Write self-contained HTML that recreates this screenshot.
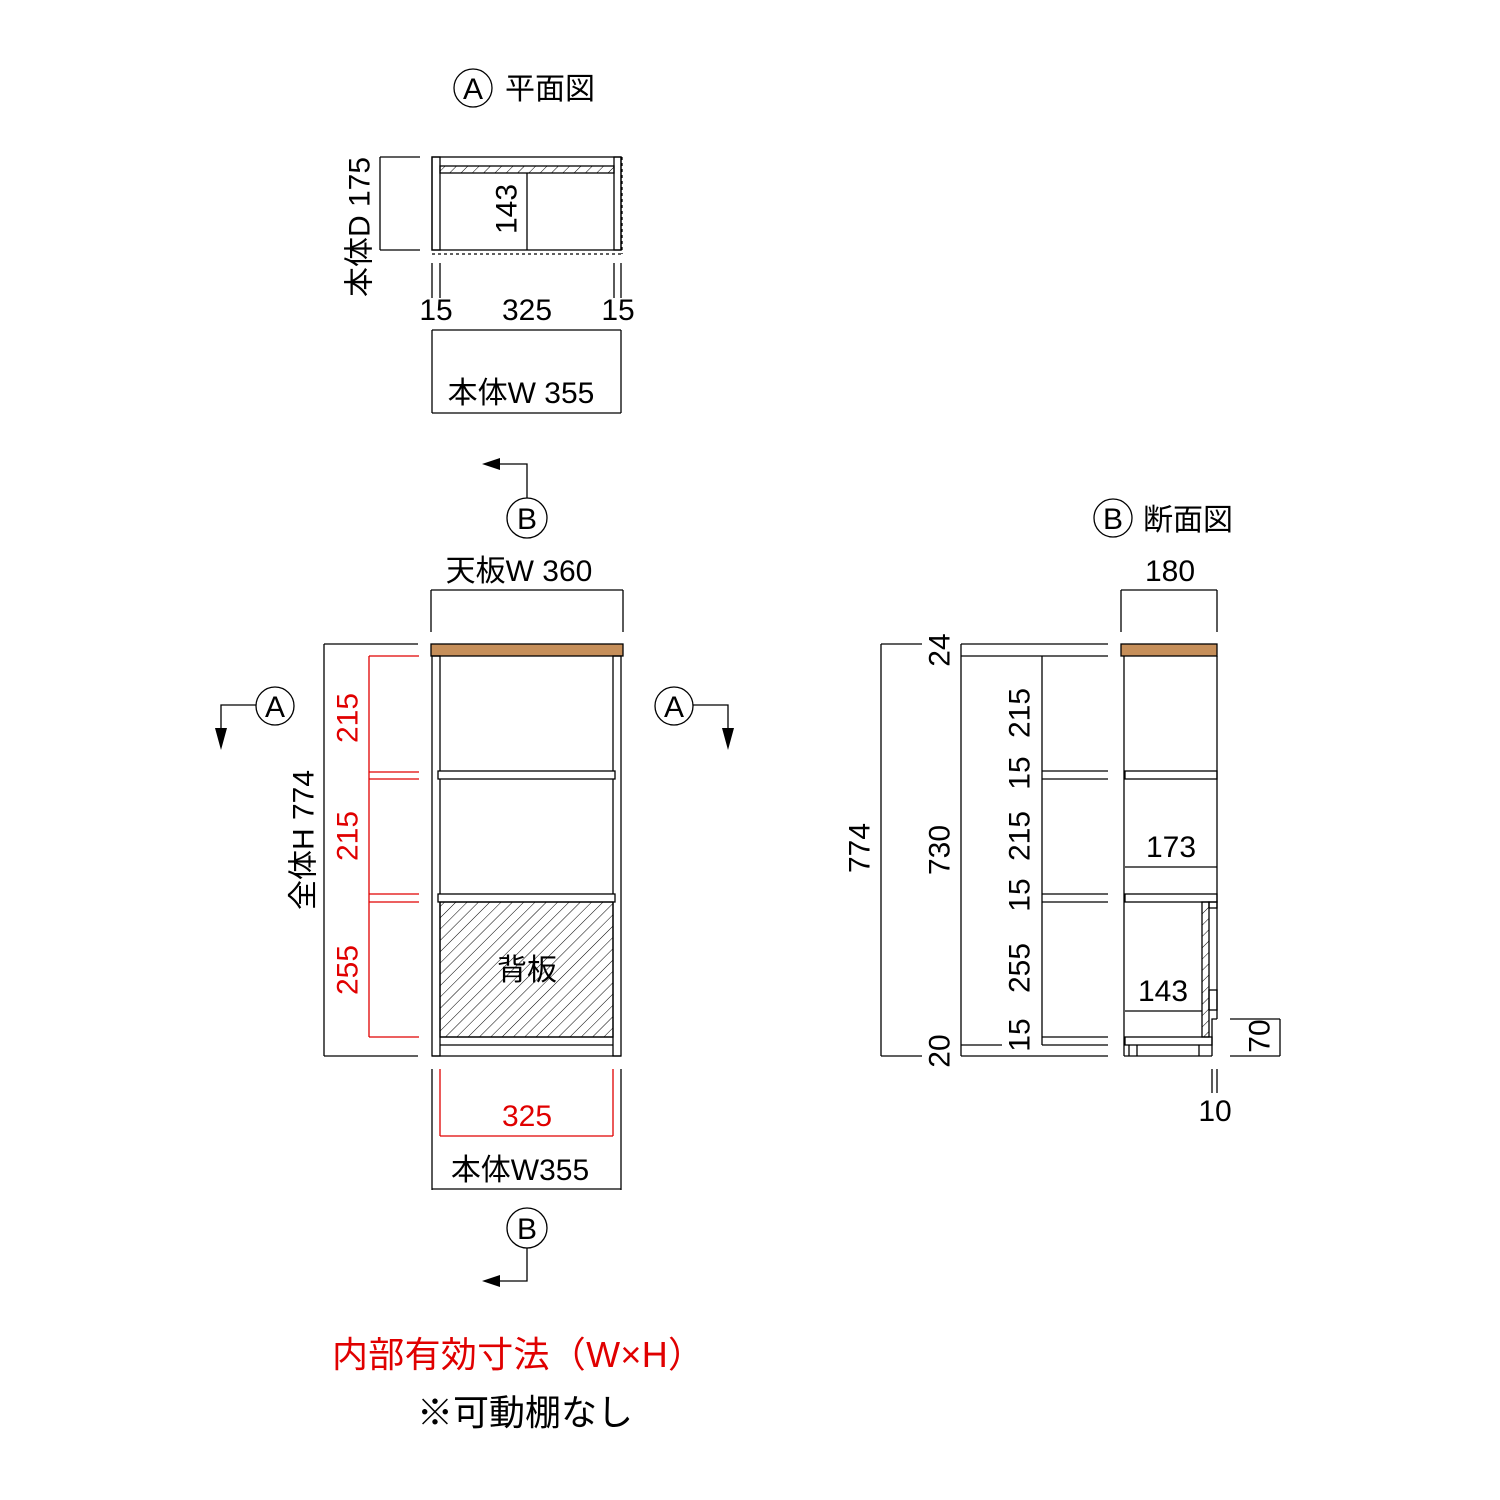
<!DOCTYPE html>
<html><head><meta charset="utf-8"><style>
html,body{margin:0;padding:0;background:#fff}
svg{display:block}
text{font-family:"Liberation Sans","Noto Sans CJK JP",sans-serif;fill:#000}
.r{fill:#e00000}
</style></head><body>
<svg width="1500" height="1500" viewBox="0 0 1500 1500" xmlns="http://www.w3.org/2000/svg">
<defs>
<pattern id="h" patternUnits="userSpaceOnUse" width="8" height="8" patternTransform="rotate(45)">
<line x1="0" y1="0" x2="0" y2="8" stroke="#000" stroke-width="1"/>
</pattern>
</defs>
<g stroke="#000" stroke-width="1.3" fill="none">
<circle cx="473" cy="88" r="19"/>
<rect x="432" y="157" width="189" height="93" fill="#fff"/>
<rect x="432" y="157" width="8" height="93"/>
<rect x="614" y="157" width="7" height="93"/>
<rect x="440" y="166" width="174" height="7" fill="url(#h)"/>
<line x1="527" y1="173" x2="527" y2="250"/>
<line x1="432" y1="254" x2="622" y2="254" stroke-dasharray="3,3"/>
<line x1="622" y1="157" x2="622" y2="254" stroke-dasharray="3,3"/>
<line x1="380" y1="157" x2="380" y2="250"/>
<line x1="380" y1="157" x2="420" y2="157"/>
<line x1="380" y1="250" x2="420" y2="250"/>
<line x1="432" y1="263" x2="432" y2="298"/><line x1="440" y1="263" x2="440" y2="298"/>
<line x1="614" y1="263" x2="614" y2="298"/><line x1="621" y1="263" x2="621" y2="298"/>
<line x1="432" y1="330" x2="621" y2="330"/>
<line x1="432" y1="330" x2="432" y2="413"/><line x1="621" y1="330" x2="621" y2="413"/>
<line x1="432" y1="413" x2="621" y2="413"/>

<circle cx="527" cy="518" r="20"/>
<polyline points="527,498 527,464 485,464"/>
<circle cx="527" cy="1228" r="20"/>
<polyline points="527,1248 527,1281 485,1281"/>
<circle cx="275" cy="706" r="19"/>
<polyline points="256,705 221,705 221,730"/>
<circle cx="674" cy="706" r="19"/>
<polyline points="693,705 728,705 728,730"/>

<line x1="431" y1="590" x2="623" y2="590"/>
<line x1="431" y1="590" x2="431" y2="632"/><line x1="623" y1="590" x2="623" y2="632"/>
<rect x="431" y="644" width="192" height="12" fill="#c68f5a"/>
<rect x="432" y="656" width="8" height="400"/>
<rect x="613" y="656" width="8" height="400"/>
<rect x="438" y="771" width="177" height="8" fill="#fff"/>
<rect x="438" y="894" width="177" height="8" fill="#fff"/>
<rect x="440" y="902" width="173" height="135" fill="url(#h)"/>
<line x1="440" y1="1037" x2="613" y2="1037"/>
<line x1="440" y1="1045" x2="613" y2="1045"/>
<line x1="432" y1="1056" x2="621" y2="1056"/>
<line x1="324" y1="644" x2="324" y2="1056"/>
<line x1="324" y1="644" x2="418" y2="644"/>
<line x1="324" y1="1056" x2="418" y2="1056"/>
<line x1="432" y1="1069" x2="432" y2="1190"/><line x1="621" y1="1069" x2="621" y2="1190"/>
<line x1="432" y1="1189" x2="621" y2="1189"/>
</g>
<g stroke="#e00000" stroke-width="1.3" fill="none">
<line x1="369" y1="656" x2="369" y2="1037"/>
<line x1="369" y1="656" x2="419" y2="656"/>
<line x1="369" y1="772" x2="419" y2="772"/>
<line x1="369" y1="779" x2="419" y2="779"/>
<line x1="369" y1="894" x2="419" y2="894"/>
<line x1="369" y1="902" x2="419" y2="902"/>
<line x1="369" y1="1037" x2="419" y2="1037"/>
<line x1="440" y1="1069" x2="440" y2="1136"/><line x1="613" y1="1069" x2="613" y2="1136"/>
<line x1="440" y1="1136" x2="613" y2="1136"/>
</g>
<g fill="#000">
<polygon points="482,464 500,458 500,470"/>
<polygon points="482,1281 500,1275 500,1287"/>
<polygon points="221,750 215,728 227,728"/>
<polygon points="728,750 722,728 734,728"/>
</g>

<g stroke="#000" stroke-width="1.3" fill="none">
<circle cx="1113" cy="518" r="19"/>
<line x1="1121" y1="590" x2="1217" y2="590"/>
<line x1="1121" y1="590" x2="1121" y2="632"/><line x1="1217" y1="590" x2="1217" y2="632"/>
<rect x="1121" y="644" width="96" height="12" fill="#c68f5a"/>
<line x1="1124" y1="656" x2="1124" y2="1056"/>
<line x1="1217" y1="656" x2="1217" y2="1019"/>
<rect x="1125" y="771" width="92" height="8"/>
<rect x="1125" y="894" width="92" height="8"/>
<line x1="1125" y1="867" x2="1217" y2="867"/>
<rect x="1202" y="902" width="7" height="135" fill="url(#h)"/>
<rect x="1209" y="902" width="8" height="6"/>
<rect x="1209" y="990" width="8" height="20"/>
<polyline points="1217,1019 1212,1019 1212,1056"/>
<line x1="1125" y1="1011" x2="1202" y2="1011"/>
<rect x="1125" y="1037" width="87" height="8"/>
<line x1="1124" y1="1056" x2="1212" y2="1056"/>
<line x1="1129" y1="1045" x2="1129" y2="1056"/>
<line x1="1137" y1="1045" x2="1137" y2="1056"/>
<line x1="1199" y1="1045" x2="1199" y2="1056"/>
<line x1="881" y1="644" x2="881" y2="1056"/>
<line x1="881" y1="644" x2="922" y2="644"/><line x1="881" y1="1056" x2="922" y2="1056"/>
<line x1="961" y1="644" x2="961" y2="1056"/>
<line x1="961" y1="644" x2="1108" y2="644"/>
<line x1="961" y1="656" x2="1108" y2="656"/>
<line x1="961" y1="1045" x2="1002" y2="1045"/>
<line x1="1042" y1="1045" x2="1108" y2="1045"/>
<line x1="961" y1="1056" x2="1108" y2="1056"/>
<line x1="1042" y1="656" x2="1042" y2="1045"/>
<line x1="1042" y1="771" x2="1108" y2="771"/>
<line x1="1042" y1="779" x2="1108" y2="779"/>
<line x1="1042" y1="894" x2="1108" y2="894"/>
<line x1="1042" y1="902" x2="1108" y2="902"/>
<line x1="1042" y1="1037" x2="1108" y2="1037"/>
<line x1="1280" y1="1019" x2="1280" y2="1056"/>
<line x1="1230" y1="1019" x2="1280" y2="1019"/>
<line x1="1230" y1="1056" x2="1280" y2="1056"/>
<line x1="1212" y1="1069" x2="1212" y2="1093"/>
<line x1="1217" y1="1069" x2="1217" y2="1093"/>
</g>

<g font-size="30" text-anchor="middle">
<text x="473" y="99">A</text>
<text x="550" y="99" text-anchor="middle">平面図</text>
<text x="507" y="209" transform="rotate(-90 507 209)" dominant-baseline="central">143</text>
<text x="360" y="227" transform="rotate(-90 360 227)" dominant-baseline="central">本体D 175</text>
<text x="436" y="320">15</text>
<text x="527" y="320">325</text>
<text x="618" y="320">15</text>
<text x="521" y="403">本体W 355</text>
<text x="527" y="529">B</text>
<text x="527" y="1239">B</text>
<text x="275" y="717">A</text>
<text x="674" y="717">A</text>
<text x="519" y="581">天板W 360</text>
<text x="304" y="840" transform="rotate(-90 304 840)" dominant-baseline="central">全体H 774</text>
<text x="348" y="718" transform="rotate(-90 348 718)" dominant-baseline="central" class="r">215</text>
<text x="348" y="836" transform="rotate(-90 348 836)" dominant-baseline="central" class="r">215</text>
<text x="348" y="970" transform="rotate(-90 348 970)" dominant-baseline="central" class="r">255</text>
<text x="527" y="980">背板</text>
<text x="527" y="1126" class="r">325</text>
<text x="520" y="1180">本体W355</text>
<text x="1113" y="529">B</text>
<text x="1188" y="530">断面図</text>
<text x="1170" y="581">180</text>
<text x="860" y="848" transform="rotate(-90 860 848)" dominant-baseline="central">774</text>
<text x="940" y="650" transform="rotate(-90 940 650)" dominant-baseline="central">24</text>
<text x="940" y="850" transform="rotate(-90 940 850)" dominant-baseline="central">730</text>
<text x="940" y="1051" transform="rotate(-90 940 1051)" dominant-baseline="central">20</text>
<text x="1020" y="713" transform="rotate(-90 1020 713)" dominant-baseline="central">215</text>
<text x="1020" y="773" transform="rotate(-90 1020 773)" dominant-baseline="central">15</text>
<text x="1020" y="836" transform="rotate(-90 1020 836)" dominant-baseline="central">215</text>
<text x="1020" y="895" transform="rotate(-90 1020 895)" dominant-baseline="central">15</text>
<text x="1020" y="968" transform="rotate(-90 1020 968)" dominant-baseline="central">255</text>
<text x="1020" y="1035" transform="rotate(-90 1020 1035)" dominant-baseline="central">15</text>
<text x="1171" y="857">173</text>
<text x="1163" y="1001">143</text>
<text x="1260" y="1036" transform="rotate(-90 1260 1036)" dominant-baseline="central">70</text>
<text x="1215" y="1121">10</text>
</g>
<text x="518" y="1367" font-size="36" text-anchor="middle" class="r" textLength="372">内部有効寸法（W×H）</text>
<text x="525" y="1425" font-size="36" text-anchor="middle">※可動棚なし</text>
</svg>
</body></html>
